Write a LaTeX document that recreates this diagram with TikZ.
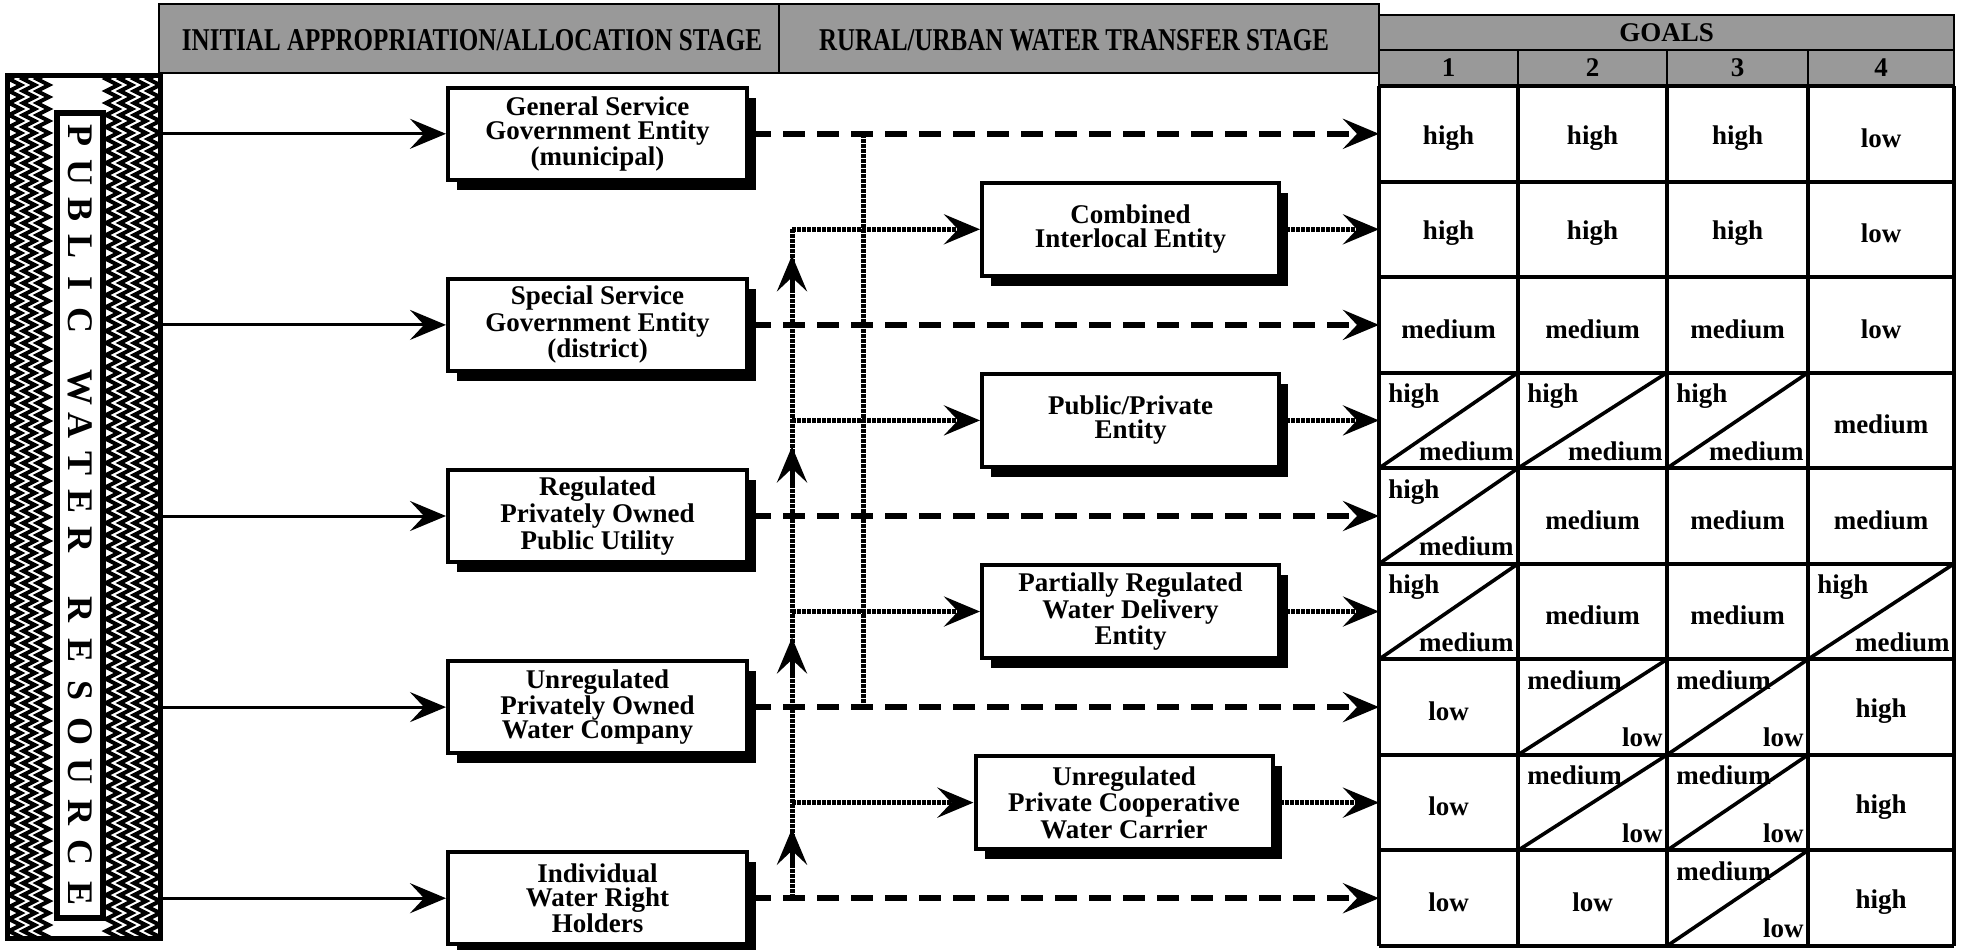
\documentclass[tikz,border=0pt]{standalone}
\usepackage{fontspec}
\setmainfont{Liberation Serif}
\usetikzlibrary{arrows.meta,decorations.pathmorphing,shadows,calc}
\begin{document}
\begin{tikzpicture}[x=0.5pt,y=-0.5pt,
  tip/.style={-{Stealth[length=18pt,width=15pt,inset=7pt]}},
  box/.style={draw,line width=2pt,fill=white,minimum width=149.5pt,minimum height=46pt,align=center,inner sep=0pt,
    font=\fontsize{13.5}{12}\selectfont\bfseries,
    drop shadow={shadow xshift=4.5pt,shadow yshift=-5pt,opacity=1,fill=black}},
  mbox/.style={box,minimum width=148.5pt,minimum height=46.5pt},
  hdr/.style={draw,line width=1pt,fill=black!40,inner sep=0pt},
  solidarrow/.style={line width=1.5pt,tip},
  dasharrow/.style={line width=3pt,dash pattern=on 11pt off 6pt,tip},
  dotline/.style={line width=2.5pt,dash pattern=on 2pt off 0.5pt},
  dotarrow/.style={dotline,tip},
  upmark/.style={line width=2.5pt,tip},
  cell/.style={inner sep=0pt,font=\fontsize{13.5}{13}\selectfont\bfseries},
  grid/.style={line width=2pt},
  letter/.style={rotate=-90,inner sep=0pt,font=\fontsize{18}{18}\selectfont\bfseries}
]
\useasboundingbox (0,0) rectangle (1961,949);

% ---------- header ----------
\node[hdr,minimum width=310pt,minimum height=34.5pt] (h1) at (469,38.5) {};
\node[hdr,minimum width=300pt,minimum height=34.5pt] (h2) at (1079,38.5) {};
\node[inner sep=0pt] (h1t) at (472,40) {\resizebox{290pt}{10.5pt}{\bfseries INITIAL APPROPRIATION/ALLOCATION STAGE}};
\node[inner sep=0pt] (h2t) at (1074,40) {\resizebox{255pt}{10.5pt}{\bfseries RURAL/URBAN WATER TRANSFER STAGE}};

\node[hdr,minimum width=287.5pt,minimum height=17.5pt,font=\fontsize{13.5}{13}\selectfont\bfseries] (goals) at (1666.5,32.5) {GOALS};
\node[hdr,minimum width=69.5pt,minimum height=18pt,font=\fontsize{13.5}{13}\selectfont\bfseries] (g1) at (1448.5,68) {1};
\node[hdr,minimum width=74.5pt,minimum height=18pt,font=\fontsize{13.5}{13}\selectfont\bfseries] (g2) at (1592.5,68) {2};
\node[hdr,minimum width=70.5pt,minimum height=18pt,font=\fontsize{13.5}{13}\selectfont\bfseries] (g3) at (1737.5,68) {3};
\node[hdr,minimum width=73pt,minimum height=18pt,font=\fontsize{13.5}{13}\selectfont\bfseries] (g4) at (1881,68) {4};

% ---------- left bar ----------
\begin{scope}
  \clip (7,75) rectangle (160,938);
  \foreach \xx in {15,29,43,112,126,140,154}
    \draw[line width=2pt,decorate,decoration={zigzag,segment length=6pt,amplitude=3pt}] (\xx,70) -- (\xx,945);
\end{scope}
\node[draw,line width=2.5pt,minimum width=76.5pt,minimum height=431.5pt,inner sep=0pt] (bar) at (83.5,506.5) {};
\node[draw,line width=3pt,fill=white,minimum width=23pt,minimum height=402.5pt,inner sep=0pt] (strip) at (80,515.5) {};
\foreach \ch/\yy in {P/135,U/172,B/209,L/246,I/283,C/320,
                     W/387,A/425,T/463,E/501,R/539,
                     R/609,E/650,S/690.5,O/731,U/771.5,R/812,C/852.5,E/893}
  \node[letter] at (80,\yy) {\ch};

% ---------- left boxes ----------
\node[box] (b1) at (597.5,133.8) {General Service\\Government Entity\\(municipal)};
\node[box] (b2) at (597.5,324.9) {Special Service\\Government Entity\\(district)};
\node[box] (b3) at (597.5,516.0) {Regulated\\Privately Owned\\Public Utility};
\node[box] (b4) at (597.5,707.1) {Unregulated\\Privately Owned\\Water Company};
\node[box] (b5) at (597.5,898.2) {Individual\\Water Right\\Holders};

% ---------- middle boxes ----------
\node[mbox] (m1) at (1130.5,229.3) {Combined\\Interlocal Entity};
\node[mbox] (m2) at (1130.5,420.4) {Public/Private\\Entity};
\node[mbox] (m3) at (1130.5,611.5) {Partially Regulated\\Water Delivery\\Entity};
\node[mbox] (m4) at (1124,802.6) {Unregulated\\Private Cooperative\\Water Carrier};

% ---------- table ----------
\def\cx{{1379,1518,1667,1808,1954}}
\foreach \ii in {0,...,9}
  \draw[grid] (1379,{86+95.55*\ii}) -- (1954,{86+95.55*\ii});
\foreach \xx in {1379,1518,1667,1808,1954}
  \draw[grid] (\xx,86) -- (\xx,946);

\foreach \ci/\ri/\tx in {1/1/high,2/1/high,3/1/high,4/1/low,
                         1/2/high,2/2/high,3/2/high,4/2/low,
                         1/3/medium,2/3/medium,3/3/medium,4/3/low,
                         4/4/medium,
                         2/5/medium,3/5/medium,4/5/medium,
                         2/6/medium,3/6/medium,
                         1/7/low,4/7/high,
                         1/8/low,4/8/high,
                         1/9/low,2/9/low,4/9/high}{
  \pgfmathsetmacro\xa{\cx[\ci-1]}
  \pgfmathsetmacro\xb{\cx[\ci]}
  \node[cell] at ({(\xa+\xb)/2},{86+95.55*(\ri-0.5)+4}) {\tx};
}
\foreach \ci/\ri/\up/\lo in {1/4/high/medium,2/4/high/medium,3/4/high/medium,
                             1/5/high/medium,
                             1/6/high/medium,4/6/high/medium,
                             2/7/medium/low,3/7/medium/low,
                             2/8/medium/low,3/8/medium/low,
                             3/9/medium/low}{
  \pgfmathsetmacro\xa{\cx[\ci-1]}
  \pgfmathsetmacro\xb{\cx[\ci]}
  \pgfmathsetmacro\ya{86+95.55*(\ri-1)}
  \pgfmathsetmacro\yb{\ya+95.55}
  \draw[line width=1.8pt] (\xa,\yb) -- (\xb,\ya);
  \node[cell,anchor=base west] at ({\xa+9},{\ya+30}) {\up};
  \node[cell,anchor=base east] at ({\xb-4},{\yb-8}) {\lo};
}

% table entry points
\coordinate (e1) at (1379,133.8);
\coordinate (e2) at (1379,229.3);
\coordinate (e3) at (1379,324.9);
\coordinate (e4) at (1379,420.4);
\coordinate (e5) at (1379,516.0);
\coordinate (e6) at (1379,611.5);
\coordinate (e7) at (1379,707.1);
\coordinate (e8) at (1379,802.6);
\coordinate (e9) at (1379,898.2);

% ---------- connectors ----------
\foreach \bb in {b1,b2,b3,b4,b5}
  \draw[solidarrow] (bar.east |- \bb.west) -- (\bb.west);

\coordinate (ja) at (863,133.8);
\coordinate (jb) at (863,707.1);
\draw[dotline] (ja) -- (jb);

\coordinate (v2) at (792,229.3);
\coordinate (v4) at (792,420.4);
\coordinate (v6) at (792,611.5);
\coordinate (v8) at (792,802.6);
\coordinate (v9) at (792,898.2);
\draw[dotline] (v9) -- (v2);

\draw[dasharrow] (b1.east) -- (e1);
\draw[dasharrow] (b2.east) -- (e3);
\draw[dasharrow] (b3.east) -- (e5);
\draw[dasharrow] (b4.east) -- (e7);
\draw[dasharrow] (b5.east) -- (e9);

\draw[dotarrow] (v2) -- (m1.west);
\draw[dotarrow] (v4) -- (m2.west);
\draw[dotarrow] (v6) -- (m3.west);
\draw[dotarrow] (v8) -- (m4.west);

\foreach \vv in {v2,v4,v6,v8}
  \draw[upmark] ($(\vv)+(0,64)$) -- ($(\vv)+(0,26)$);

\draw[dotarrow] (m1.east) -- (e2);
\draw[dotarrow] (m2.east) -- (e4);
\draw[dotarrow] (m3.east) -- (e6);
\draw[dotarrow] (m4.east) -- (e8);
\end{tikzpicture}
\end{document}
